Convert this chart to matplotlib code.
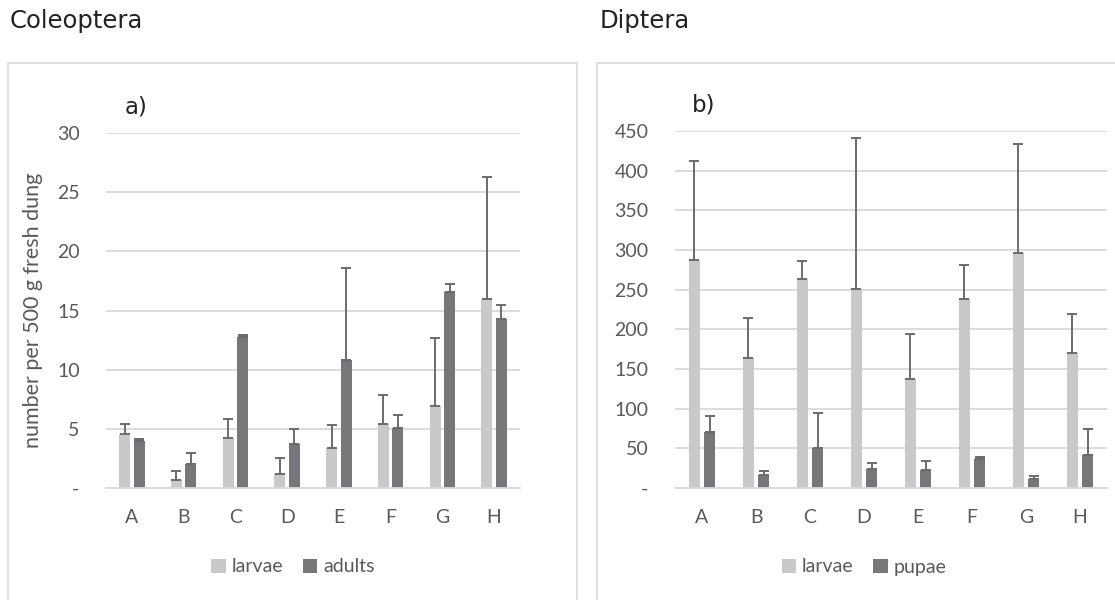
import matplotlib.pyplot as plt
import numpy as np

plt.rcParams['font.family'] = ['Lato', 'DejaVu Sans']

sites = ['A', 'B', 'C', 'D', 'E', 'F', 'G', 'H']

# Coleoptera (a)
col_larvae = [4.6, 0.7, 4.2, 1.2, 3.4, 5.45, 6.9, 16.0]
col_larvae_err = [0.8, 0.75, 1.65, 1.3, 1.9, 2.45, 5.75, 10.25]
col_adults = [3.95, 2.05, 12.8, 3.7, 10.85, 5.05, 16.6, 14.3]
col_adults_err = [0.15, 0.9, 0.15, 1.25, 7.75, 1.1, 0.65, 1.15]

# Diptera (b)
dip_larvae = [288, 164, 264, 251, 137, 238, 296, 170]
dip_larvae_err = [124, 50, 22, 190, 57, 43, 138, 49]
dip_pupae = [71, 16, 50, 23.5, 23, 36, 11.5, 41.5]
dip_pupae_err = [20, 5, 45, 7.5, 10.5, 3, 4, 33.5]

light = '#c8c9cb'
dark = '#76777b'
errc = '#6b6b6d'
txt = '#595959'
grid = '#d9d9d9'

W, H = 1115, 600
fig = plt.figure(figsize=(W / 100, H / 100), dpi=100)

# chart-area frames (bottom and right edge run off the picture)
for x0, x1 in [(8, 577), (597, 1140)]:
    fig.patches.append(plt.Rectangle((x0 / W, -0.01), (x1 - x0) / W, 1 - 63 / H + 0.01,
                                     transform=fig.transFigure, fill=False,
                                     edgecolor=grid, linewidth=1.2))

fig.text(10 / W, 1 - 28 / H, 'Coleoptera', fontsize=17.5, color='#222222',
         va='baseline', family='DejaVu Sans')
fig.text(600 / W, 1 - 28 / H, 'Diptera', fontsize=17.5, color='#222222',
         va='baseline', family='DejaVu Sans')
fig.text(125 / W, 1 - 113 / H, 'a)', fontsize=16.5, color='#222222',
         va='baseline', family='DejaVu Sans')
fig.text(692 / W, 1 - 112 / H, 'b)', fontsize=16.5, color='#222222',
         va='baseline', family='DejaVu Sans')

ax1 = fig.add_axes([106 / W, 1 - 488 / H, 414 / W, 355 / H])
ax2 = fig.add_axes([675 / W, 1 - 488 / H, 432 / W, 357 / H])

x = np.arange(len(sites))
w = 0.21
off = 0.14


def draw(ax, s1, e1, s2, e2, ymax, step, labels, leg_x):
    ax.bar(x - off, s1, w, color=light, label=labels[0], zorder=2)
    ax.bar(x + off, s2, w, color=dark, label=labels[1], zorder=2)
    ax.errorbar(x - off, s1, yerr=[np.zeros(len(s1)), e1], fmt='none', ecolor=errc,
                elinewidth=1.4, capsize=3.5, capthick=1.4, zorder=3)
    ax.errorbar(x + off, s2, yerr=[np.zeros(len(s2)), e2], fmt='none', ecolor=errc,
                elinewidth=1.4, capsize=3.5, capthick=1.4, zorder=3)
    ax.set_xlim(-0.5, len(sites) - 0.5)
    ax.set_ylim(0, ymax)
    ticks = np.arange(0, ymax + step / 2, step)
    ax.set_yticks(ticks)
    ax.set_yticklabels(['-'] + [str(int(t)) for t in ticks[1:]])
    ax.set_xticks(x)
    ax.set_xticklabels(sites)
    ax.yaxis.grid(True, color=grid, linewidth=1.3, zorder=0)
    ax.set_axisbelow(True)
    for sp in ['top', 'right', 'left']:
        ax.spines[sp].set_visible(False)
    ax.spines['bottom'].set_color(grid)
    ax.spines['bottom'].set_linewidth(1.3)
    ax.tick_params(length=0, labelsize=14, colors=txt)
    ax.tick_params(axis='x', pad=15)
    ax.tick_params(axis='y', pad=19)
    fig.legend(handles=ax.containers[:2], labels=labels, loc='center',
               bbox_to_anchor=(leg_x / W, 1 - 567 / H), ncol=2, frameon=False,
               fontsize=14, labelcolor=txt, handlelength=0.75, handleheight=0.75,
               handletextpad=0.3, columnspacing=1.0)


draw(ax1, col_larvae, col_larvae_err, col_adults, col_adults_err, 30, 5,
     ['larvae', 'adults'], 293)
draw(ax2, dip_larvae, dip_larvae_err, dip_pupae, dip_pupae_err, 450, 50,
     ['larvae', 'pupae'], 864)

ax1.set_ylabel('number per 500 g fresh dung', fontsize=15.5, color=txt, labelpad=10)

fig.savefig('out.png', dpi=100)
